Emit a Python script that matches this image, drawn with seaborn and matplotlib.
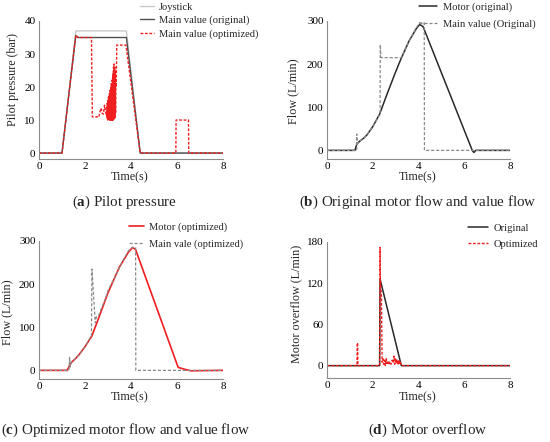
import matplotlib
matplotlib.use("Agg")
import matplotlib.pyplot as plt
import seaborn as sns
import numpy as np

# ---------------- data ----------------
# (a) Pilot pressure
a_joy_t = [0, 1.0, 1.6, 3.8, 4.4, 8]
a_joy_v = [0, 0, 37, 37, 0, 0]
a_orig_t = [0, 1.0, 1.6, 1.7, 3.8, 4.4, 8]
a_orig_v = [0, 0, 35.6, 35, 35, 0, 0]
a_opt_t = [0, 1.0, 1.6, 1.7, 2.28, 2.32, 2.40, 2.50, 2.60, 2.65, 2.70, 2.75, 2.80, 2.85, 2.90,
           2.95, 2.96, 2.97, 2.98, 2.99, 3.00, 3.01, 3.02, 3.03, 3.04, 3.05, 3.06, 3.07, 3.08,
           3.09, 3.10, 3.11, 3.12, 3.13, 3.14, 3.15, 3.16, 3.17, 3.18, 3.19, 3.20, 3.21, 3.22,
           3.23, 3.24, 3.25, 3.26, 3.27, 3.28, 3.29, 3.30, 3.31, 3.32, 3.33, 3.34, 3.36, 3.38,
           3.78, 4.4, 5.95, 5.96, 6.5, 6.51, 8]
a_opt_v = [0, 0, 35.6, 35, 35, 11, 10.8, 11, 10.8, 12.5, 13.6, 12, 11.8, 14.5, 12.2,
           11, 15, 10.5, 14, 10, 16, 10.5, 17, 10, 15, 11, 18, 10, 19,
           10.5, 17, 10, 20, 10, 21, 10.5, 19, 10, 22, 10, 23, 10.5, 24,
           10, 26, 10.5, 27, 10, 25, 11, 26, 10.5, 24, 12, 22, 20, 32.7,
           32.7, 0, 0, 10, 10, 0, 0]

# (b) Original motor flow and valve flow
b_motor_t = [0, 1.22, 1.3, 1.4, 1.6, 1.75, 2.0, 2.3, 2.6, 3.0, 3.24, 3.6, 3.9, 4.05, 4.2, 6.35, 6.42, 6.5, 8]
b_motor_v = [0, 0, 14, 20, 28, 36, 55, 84, 127, 182, 213, 255, 282, 292, 287, 0, -5, 0, 0]
b_valve_t = [0, 1.30, 1.30, 1.32, 1.4, 1.6, 1.75, 2.0, 2.32, 2.33, 2.36, 3.24, 3.6, 3.9, 4.05, 4.25, 4.26, 8]
b_valve_v = [0, 0, 38, 15, 20, 28, 36, 55, 84, 245, 215, 215, 255, 284, 296, 296, 0, 0]

# (c) Optimized motor flow and valve flow
c_motor_t = [0, 1.22, 1.3, 1.4, 1.6, 1.75, 2.0, 2.3, 2.6, 3.0, 3.5, 3.9, 4.07, 4.2, 6.05, 6.3, 6.6, 8]
c_motor_v = [0, 0, 8, 18, 28, 37, 55, 80, 122, 180, 240, 275, 285, 280, 7, 3, -1, 0]
c_valve_t = [0, 1.30, 1.33, 1.36, 1.4, 1.6, 1.75, 2.0, 2.28, 2.30, 2.40, 2.45, 2.50, 2.60, 2.70,
             2.80, 2.90, 3.00, 3.10, 3.30, 3.60, 3.90, 4.05, 4.20, 4.21, 8]
c_valve_v = [0, 0, 30, 8, 18, 28, 37, 55, 80, 235, 150, 110, 125, 128, 142,
             155, 168, 185, 196, 215, 250, 278, 285, 285, 0, 0]

# (d) Motor overflow
d_orig_t = [0, 2.30, 2.32, 3.25, 8]
d_orig_v = [0, 0, 126, 0, 0]
d_opt_t = [0, 1.31, 1.32, 1.34, 1.35, 2.30, 2.32, 2.33, 2.38, 2.41, 2.45, 2.48, 2.52, 2.55, 2.59,
           2.62, 2.66, 2.70, 2.75, 2.80, 2.85, 2.90, 2.93, 2.96, 3.00, 3.03, 3.06, 3.10, 3.13,
           3.16, 3.20, 3.23, 3.26, 8]
d_opt_v = [0, 0, 33, 33, 0, 0, 172, 125, 100, 5, 10, 2, 8, 0, 10,
           3, 7, 1, 6, 2, 8, 4, 14, 2, 10, 3, 9, 1, 8,
           2, 7, 1, 0, 0]

x_ticks = [0, 2, 4, 6, 8]
captions = [("a", "Pilot pressure"), ("b", "Original motor flow and value flow"),
            ("c", "Optimized motor flow and value flow"), ("d", "Motor overflow")]

# ---------------- style ----------------
sns.set_theme(style="white")
plt.rcParams["font.family"] = ["Liberation Serif", "DejaVu Serif"]
plt.rcParams["mathtext.fontset"] = "custom"
plt.rcParams["mathtext.rm"] = "Liberation Serif"
plt.rcParams["mathtext.bf"] = "Liberation Serif:bold"

W, H = 550, 442
fig = plt.figure(figsize=(5.5, 4.42), dpi=100)
fig.patch.set_facecolor("white")

def add_ax(l, t, r, b):
    return fig.add_axes([l / W, 1 - b / H, (r - l) / W, (b - t) / H])

axA = add_ax(39, 21, 223, 159)
axB = add_ax(327, 21, 510, 159)
axC = add_ax(39, 241, 223, 379)
axD = add_ax(327, 242, 510, 378)

RED = "#f01e1e"
GRAY = "#8a8a8a"
DOT = (0, (2.0, 1.2))

def line(ax, t, v, **kw):
    sns.lineplot(x=t, y=v, ax=ax, sort=False, estimator=None, **kw)

line(axA, a_joy_t, a_joy_v, color="#c9c9c9", lw=1.0, label="Joystick")
line(axA, a_orig_t, a_orig_v, color="#505050", lw=1.0, label="Main value (original)")
line(axA, a_opt_t, a_opt_v, color=RED, lw=1.0, linestyle=DOT, label="Main value (optimized)")

line(axB, b_motor_t, b_motor_v, color="#2a2a2a", lw=1.1, label="Motor (original)")
line(axB, b_valve_t, b_valve_v, color=GRAY, lw=0.9, linestyle=(0, (2.5, 1.5)), label="Main value (Original)")

line(axC, c_motor_t, c_motor_v, color=RED, lw=1.2, label="Motor (optimized)")
line(axC, c_valve_t, c_valve_v, color=GRAY, lw=0.9, linestyle=(0, (2.5, 1.5)), label="Main vale (optimized)")

line(axD, d_orig_t, d_orig_v, color="#2a2a2a", lw=1.1, label="Original")
line(axD, d_opt_t, d_opt_v, color=RED, lw=1.0, linestyle=DOT, label="Optimized")

setup = [
    (axA, (-1.8, 40), [0, 10, 20, 30, 40], "Pilot pressure (bar)", (13, 80), (130, 177),
     (140, 2.5), 0.35, 1.3),
    (axB, (-20, 300), [0, 100, 200, 300], "Flow (L/min)", (293, 91), (418, 177),
     (419, 2), 0.75, 1.75),
    (axC, (-20, 300), [0, 100, 200, 300], "Flow (L/min)", (7, 312), (130, 397.5),
     (129, 222.5), 0.65, 1.4),
    (axD, (-18, 180), [0, 60, 120, 180], "Motor overflow (L/min)", (296, 304), (418, 397.5),
     (468, 223.5), 0.65, 1.9),
]

for ax, ylim, yt, ylab, ylpos, xlpos, legpos, lsp, hl in setup:
    ax.set_xlim(0, 8)
    ax.set_ylim(*ylim)
    ax.set_xticks(x_ticks)
    ax.set_yticks(yt)
    ax.set_facecolor("white")
    for s in ["top", "right"]:
        ax.spines[s].set_visible(False)
    for s in ["left", "bottom"]:
        ax.spines[s].set_color("#8c8c8c")
        ax.spines[s].set_linewidth(0.8)
    ax.tick_params(direction="in", length=3, width=0.7, color="#8c8c8c",
                   labelsize=8, pad=2.5, labelcolor="black")
    ax.set_ylabel(ylab, fontsize=8.7)
    ax.set_xlabel("Time(s)", fontsize=8.7)
    ax.yaxis.set_label_coords(ylpos[0] / W, 1 - ylpos[1] / H, transform=fig.transFigure)
    ax.xaxis.set_label_coords(xlpos[0] / W, 1 - xlpos[1] / H, transform=fig.transFigure)
    ax.xaxis.label.set_va("center")
    ax.yaxis.label.set_va("center")
    ax.legend(loc="upper left", bbox_to_anchor=(legpos[0] / W, 1 - legpos[1] / H),
              bbox_transform=fig.transFigure, frameon=False, borderaxespad=0, borderpad=0,
              fontsize=7.6, handlelength=hl, handletextpad=0.5, labelspacing=lsp)

cap_pos = [(124, 202), (418, 202), (126, 430), (428, 430)]
for (lab, txt), (cx, cy) in zip(captions, cap_pos):
    fig.text(cx / W, 1 - cy / H, r"($\mathbf{" + lab + r"}$) " + txt, ha="center", va="center",
             fontsize=10.8)

fig.savefig("out.png", dpi=100, facecolor="white")
